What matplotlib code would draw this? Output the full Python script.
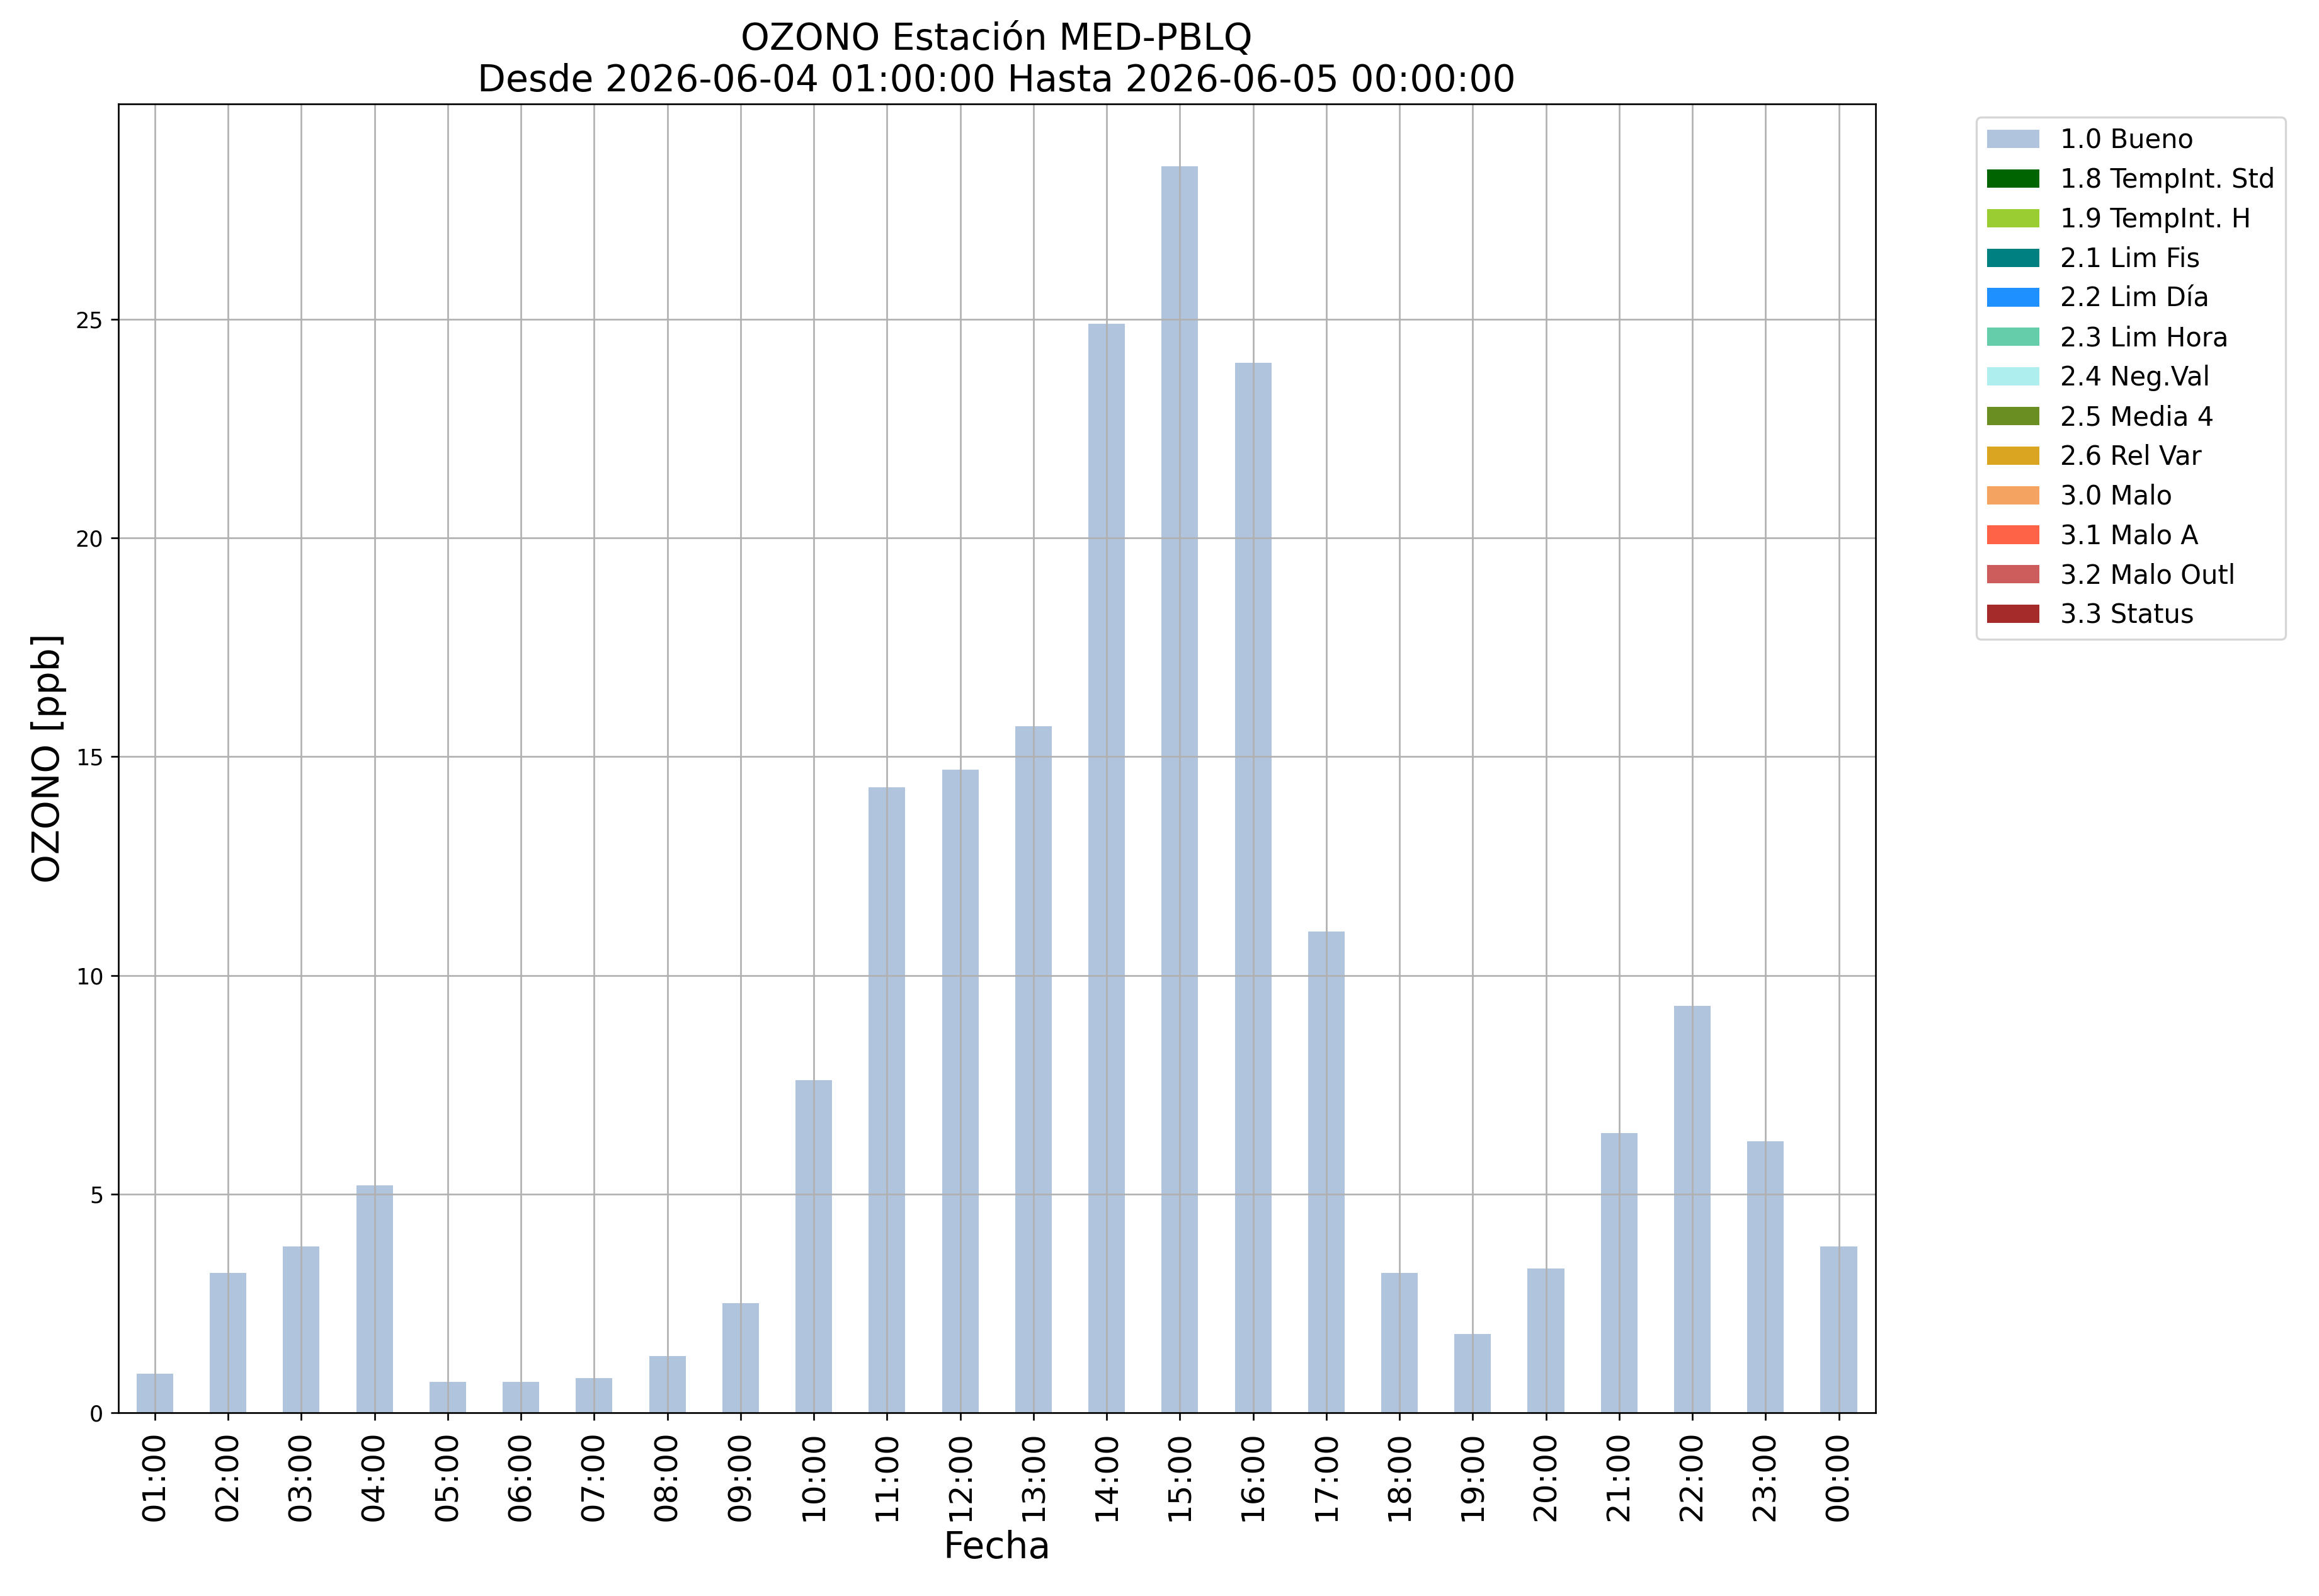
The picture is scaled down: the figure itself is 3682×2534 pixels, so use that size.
import matplotlib
matplotlib.use("Agg")
import matplotlib.pyplot as plt

hours = ["01:00", "02:00", "03:00", "04:00", "05:00", "06:00", "07:00", "08:00",
         "09:00", "10:00", "11:00", "12:00", "13:00", "14:00", "15:00", "16:00",
         "17:00", "18:00", "19:00", "20:00", "21:00", "22:00", "23:00", "00:00"]
ozono = [0.9, 3.2, 3.8, 5.2, 0.7, 0.7, 0.8, 1.3, 2.5, 7.6, 14.3, 14.7,
         15.7, 24.9, 28.5, 24.0, 11.0, 3.2, 1.8, 3.3, 6.4, 9.3, 6.2, 3.8]
flags = ["1.0 Bueno"] * len(hours)

categories = ["1.0 Bueno", "1.8 TempInt. Std", "1.9 TempInt. H", "2.1 Lim Fis",
              "2.2 Lim Día", "2.3 Lim Hora", "2.4 Neg.Val", "2.5 Media 4",
              "2.6 Rel Var", "3.0 Malo", "3.1 Malo A", "3.2 Malo Outl", "3.3 Status"]
colors = ["lightsteelblue", "darkgreen", "yellowgreen", "teal", "dodgerblue",
          "mediumaquamarine", "paleturquoise", "olivedrab", "goldenrod",
          "sandybrown", "tomato", "indianred", "brown"]

fig = plt.figure(figsize=(3682 / 240, 2534 / 240), dpi=240)
ax = fig.add_axes([0.051, 0.1148, 0.7577, 0.8202])

x = list(range(len(hours)))
for cat, col in zip(categories, colors):
    vals = [v if f == cat else 0 for v, f in zip(ozono, flags)]
    ax.bar(x, vals, width=0.5, color=col, label=cat, linewidth=0)

ax.set_xlim(-0.5, len(hours) - 0.5)
ax.set_ylim(0, max(ozono) * 1.05)
ax.set_xticks(x)
ax.set_xticklabels(hours, rotation=90, fontsize=15)
ax.tick_params(axis="x", pad=5)
ax.tick_params(axis="y", labelsize=10.5)
ax.grid(True)

ax.set_title("OZONO Estación MED-PBLQ\nDesde 2026-06-04 01:00:00 Hasta 2026-06-05 00:00:00",
             fontsize=17.5)
ax.set_xlabel("Fecha", fontsize=17.5, labelpad=4)
ax.set_ylabel("OZONO [ppb]", fontsize=17.5)
ax.legend(bbox_to_anchor=(1.05, 1), loc="upper left", fontsize=12.5)

fig.savefig("out.png", dpi=240)
